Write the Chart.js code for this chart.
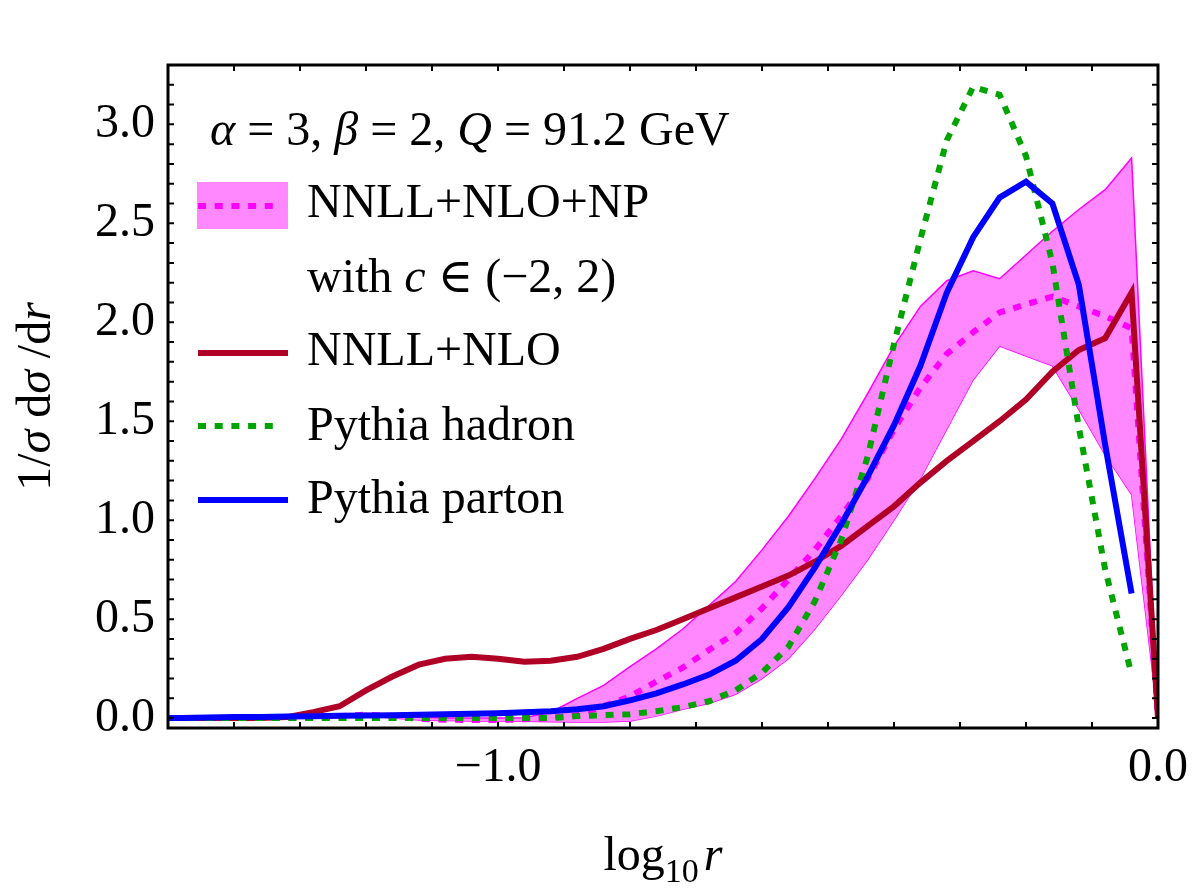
<!DOCTYPE html>
<html>
<head>
<meta charset="utf-8">
<title>Pythia vs NNLL+NLO</title>
<script src="https://cdn.jsdelivr.net/npm/chart.js@4.4.1/dist/chart.umd.min.js"></script>
<style>
  html, body { margin: 0; padding: 0; background: #fff; }
  #wrap { width: 1200px; height: 895px; }
</style>
</head>
<body>
<div id="wrap"><canvas id="chart" width="1200" height="895"></canvas></div>
<script>
// log10 r sample points
const logR = [-1.52, -1.48, -1.44, -1.40, -1.36, -1.32, -1.28, -1.24, -1.20, -1.16,
              -1.12, -1.08, -1.04, -1.00, -0.96, -0.92, -0.88, -0.84, -0.80, -0.76,
              -0.72, -0.68, -0.64, -0.60, -0.56, -0.52, -0.48, -0.44, -0.40, -0.36,
              -0.32, -0.28, -0.24, -0.20, -0.16, -0.12, -0.08, -0.04, 0.00];

// NNLL+NLO+NP, central value and band edges (c = -2 .. 2)
const npCentral = [0, 0, 0, 0, 0, 0.002, 0.005, 0.01, 0.018, 0.008,
                   -0.004, -0.008, -0.01, -0.01, -0.006, 0.0, 0.015, 0.06, 0.11, 0.185,
                   0.255, 0.345, 0.43, 0.555, 0.70, 0.85, 1.02, 1.21, 1.46, 1.67,
                   1.84, 1.95, 2.05, 2.09, 2.13, 2.08, 2.03, 1.97, 0.0];
const npUpper = [0, 0, 0, 0, 0, 0.003, 0.008, 0.015, 0.025, 0.015,
                 0.005, 0.0, 0.0, 0.0, 0.002, 0.03, 0.10, 0.165, 0.26, 0.35,
                 0.45, 0.57, 0.69, 0.85, 1.02, 1.21, 1.41, 1.64, 1.88, 2.08,
                 2.21, 2.26, 2.22, 2.34, 2.46, 2.57, 2.67, 2.83, 0.0];
const npLower = [0, 0, 0, 0, 0, 0, 0, 0.002, 0.01, 0.0,
                 -0.01, -0.012, -0.014, -0.015, -0.016, -0.018, -0.02, -0.02, -0.015, 0.01,
                 0.045, 0.075, 0.12, 0.20, 0.30, 0.45, 0.62, 0.80, 1.00, 1.21,
                 1.46, 1.71, 1.88, 1.83, 1.78, 1.56, 1.33, 1.13, 0.0];

// NNLL+NLO without NP
const nnllNlo = [0, 0, 0, 0, 0, 0.005, 0.03, 0.06, 0.14, 0.21,
                 0.27, 0.30, 0.31, 0.30, 0.285, 0.29, 0.31, 0.35, 0.40, 0.445,
                 0.50, 0.555, 0.61, 0.665, 0.72, 0.79, 0.87, 0.97, 1.07, 1.19,
                 1.30, 1.40, 1.50, 1.61, 1.75, 1.86, 1.92, 2.15, 0.0];

const pythiaHadron = [0, 0, 0, 0, 0, 0, 0, 0, 0, 0,
                      0, 0, 0, 0, 0, 0, 0.01, 0.015, 0.02, 0.035,
                      0.055, 0.085, 0.14, 0.23, 0.36, 0.59, 0.90, 1.32, 1.89, 2.42,
                      2.92, 3.19, 3.15, 2.84, 2.30, 1.47, 0.75, 0.22, null];

const pythiaParton = [0, 0, 0.003, 0.005, 0.005, 0.008, 0.01, 0.012, 0.013, 0.015,
                      0.017, 0.02, 0.022, 0.025, 0.03, 0.035, 0.045, 0.06, 0.09, 0.125,
                      0.17, 0.22, 0.29, 0.40, 0.56, 0.76, 0.98, 1.22, 1.48, 1.78,
                      2.15, 2.43, 2.63, 2.71, 2.60, 2.19, 1.38, 0.63, null];

const xRange = [-1.5, 0.0];
const yRange = [-0.05, 3.3];
const xLabelled = [-1.0, 0.0];

const FONT = '"Liberation Serif", "DejaVu Serif", serif';
const MAGENTA = '#ff00ff';
const BAND = '#ff88ff';
const RED = '#b10026';
const GREEN = '#00a300';
const BLUE = '#0000ff';
const DASH = [8, 8.7];
const LINE_W = 6;

function points(ys) {
    return logR.map((x, i) => ({ x: x, y: ys[i] }));
}

// draw a run of text pieces, each [text, italic, size, dy]
function richText(ctx, parts, x, y) {
    let cx = x;
    parts.forEach(p => {
        ctx.font = (p[1] ? 'italic ' : '') + (p[2] || 48) + 'px ' + FONT;
        ctx.fillText(p[0], cx, y + (p[3] || 0));
        cx += ctx.measureText(p[0]).width;
    });
    return cx - x;
}

function richWidth(ctx, parts) {
    let w = 0;
    parts.forEach(p => {
        ctx.font = (p[1] ? 'italic ' : '') + (p[2] || 48) + 'px ' + FONT;
        w += ctx.measureText(p[0]).width;
    });
    return w;
}

const frameAndTicks = {
    id: 'frameAndTicks',
    afterDraw(chart) {
        const ctx = chart.ctx;
        const a = chart.chartArea;
        const xs = chart.scales.x;
        const ys = chart.scales.y;
        const len = 6;
        ctx.save();
        ctx.strokeStyle = '#000';
        ctx.lineWidth = 2;
        ctx.beginPath();
        xs.ticks.forEach(t => {
            const px = xs.getPixelForValue(t.value);
            ctx.moveTo(px, a.bottom); ctx.lineTo(px, a.bottom - len);
            ctx.moveTo(px, a.top); ctx.lineTo(px, a.top + len);
        });
        ys.ticks.forEach(t => {
            const py = ys.getPixelForValue(t.value);
            ctx.moveTo(a.left, py); ctx.lineTo(a.left + len, py);
            ctx.moveTo(a.right, py); ctx.lineTo(a.right - len, py);
        });
        ctx.stroke();
        ctx.lineWidth = 3;
        ctx.strokeRect(a.left, a.top, a.right - a.left, a.bottom - a.top);
        ctx.restore();
    }
};

const labelsAndLegend = {
    id: 'labelsAndLegend',
    afterDraw(chart) {
        const ctx = chart.ctx;
        const a = chart.chartArea;
        ctx.save();
        ctx.fillStyle = '#000';
        ctx.textBaseline = 'alphabetic';

        // axis titles
        const xTitle = [['log', false], ['10', false, 34, 12], [' ', false, 20], ['r', true]];
        const xw = richWidth(ctx, xTitle);
        richText(ctx, xTitle, (a.left + a.right) / 2 - xw / 2, 870);

        const yTitle = [['1/', false], ['σ', true], [' d', false], ['σ', true], [' /d', false], ['r', true]];
        const yw = richWidth(ctx, yTitle);
        ctx.save();
        ctx.translate(50, (a.top + a.bottom) / 2);
        ctx.rotate(-Math.PI / 2);
        richText(ctx, yTitle, -yw / 2, 0);
        ctx.restore();

        // parameters line
        richText(ctx, [['α', true], [' = 3, ', false], ['β', true], [' = 2, ', false],
                       ['Q', true], [' = 91.2 GeV', false]], 210, 145);

        // legend swatches
        ctx.fillStyle = BAND;
        ctx.fillRect(197, 182, 91, 47);
        ctx.lineCap = 'butt';
        ctx.lineWidth = LINE_W;
        ctx.setLineDash(DASH);
        ctx.strokeStyle = MAGENTA;
        ctx.beginPath(); ctx.moveTo(198, 206); ctx.lineTo(274, 206); ctx.stroke();
        ctx.strokeStyle = GREEN;
        ctx.beginPath(); ctx.moveTo(198, 426); ctx.lineTo(274, 426); ctx.stroke();
        ctx.setLineDash([]);
        ctx.strokeStyle = RED;
        ctx.beginPath(); ctx.moveTo(198, 353); ctx.lineTo(288, 353); ctx.stroke();
        ctx.strokeStyle = BLUE;
        ctx.beginPath(); ctx.moveTo(198, 500); ctx.lineTo(288, 500); ctx.stroke();

        ctx.fillStyle = '#000';
        richText(ctx, [['NNLL+NLO+NP', false]], 307, 217);
        richText(ctx, [['with ', false], ['c', true], [' ∈ (−2, 2)', false]], 307, 292);
        richText(ctx, [['NNLL+NLO', false]], 307, 365);
        richText(ctx, [['Pythia hadron', false]], 307, 440);
        richText(ctx, [['Pythia parton', false]], 307, 513);
        ctx.restore();
    }
};

const ctx = document.getElementById('chart').getContext('2d');

new Chart(ctx, {
    type: 'line',
    data: {
        datasets: [
            {
                label: 'Pythia parton',
                data: points(pythiaParton),
                borderColor: BLUE,
                borderWidth: LINE_W,
                pointRadius: 0,
                fill: false,
                order: 1
            },
            {
                label: 'Pythia hadron',
                data: points(pythiaHadron),
                borderColor: GREEN,
                borderWidth: LINE_W,
                borderDash: DASH,
                borderCapStyle: 'butt',
                pointRadius: 0,
                fill: false,
                order: 2
            },
            {
                label: 'NNLL+NLO',
                data: points(nnllNlo),
                borderColor: RED,
                borderWidth: LINE_W,
                pointRadius: 0,
                fill: false,
                order: 3
            },
            {
                label: 'NNLL+NLO+NP',
                data: points(npCentral),
                borderColor: MAGENTA,
                borderWidth: LINE_W,
                borderDash: DASH,
                borderCapStyle: 'butt',
                pointRadius: 0,
                fill: false,
                order: 4
            },
            {
                label: 'band upper',
                data: points(npUpper),
                borderColor: MAGENTA,
                borderWidth: 1.5,
                backgroundColor: BAND,
                pointRadius: 0,
                fill: '+1',
                order: 5
            },
            {
                label: 'band lower',
                data: points(npLower),
                borderColor: MAGENTA,
                borderWidth: 1.5,
                pointRadius: 0,
                fill: false,
                order: 6
            }
        ]
    },
    options: {
        responsive: false,
        animation: false,
        layout: { padding: { top: 65, right: 38, left: 0, bottom: 0 } },
        plugins: {
            legend: { display: false },
            tooltip: { enabled: false }
        },
        scales: {
            x: {
                type: 'linear',
                min: xRange[0],
                max: xRange[1],
                grid: { display: false, drawTicks: false },
                border: { display: false },
                ticks: {
                    stepSize: 0.1,
                    includeBounds: false,
                    autoSkip: false,
                    maxRotation: 0,
                    padding: 12,
                    color: '#000',
                    font: { family: FONT, size: 48 },
                    callback: function (v) {
                        const hit = xLabelled.find(l => Math.abs(l - v) < 1e-6);
                        if (hit === undefined) return '';
                        return hit < 0 ? '−' + Math.abs(hit).toFixed(1) : hit.toFixed(1);
                    }
                },
                afterFit: function (scale) { scale.height = 895 - 728; }
            },
            y: {
                type: 'linear',
                min: yRange[0],
                max: yRange[1],
                grid: { display: false, drawTicks: false },
                border: { display: false },
                ticks: {
                    stepSize: 0.1,
                    includeBounds: false,
                    autoSkip: false,
                    padding: 13,
                    color: '#000',
                    font: { family: FONT, size: 48 },
                    callback: function (v) {
                        const tenths = Math.round(v * 10);
                        return tenths % 5 === 0 ? (tenths / 10).toFixed(1) : '';
                    }
                },
                afterFit: function (scale) { scale.width = 168; }
            }
        }
    },
    plugins: [frameAndTicks, labelsAndLegend]
});
</script>
</body>
</html>
